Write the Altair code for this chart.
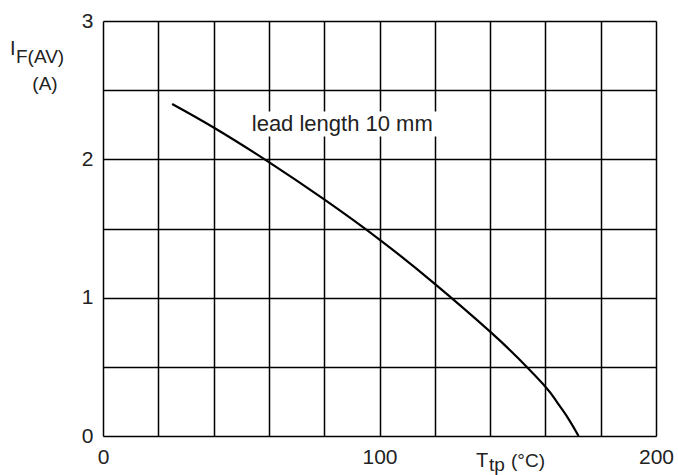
import altair as alt
import pandas as pd

# Curve: forward current vs tie-point temperature
temp = [25, 40, 60, 80, 100, 120, 140, 150, 160, 164, 168, 172]
current = [2.40, 2.23, 1.98, 1.71, 1.42, 1.10, 0.755, 0.565, 0.356, 0.25, 0.135, 0.0]

x_grid = [0, 20, 40, 60, 80, 100, 120, 140, 160, 180, 200]
y_grid = [0, 0.5, 1, 1.5, 2, 2.5, 3]

note_text = ["lead length 10 mm"]
note_x = [53.8]
note_y = [2.255]
# white box behind the note
box_x1 = [52.5]
box_x2 = [123.0]
box_y1 = [2.165]
box_y2 = [2.345]

FONT = "Liberation Sans"

curve_df = pd.DataFrame({"T": temp, "I": current})
note_df = pd.DataFrame({"label": note_text, "x": note_x, "y": note_y})
box_df = pd.DataFrame({"x1": box_x1, "x2": box_x2, "y1": box_y1, "y2": box_y2})

xscale = alt.Scale(domain=[0, 200], nice=False, zero=False)
yscale = alt.Scale(domain=[0, 3], nice=False, zero=False)

xaxis = alt.Axis(values=x_grid, title=None, grid=True, domain=False, ticks=False,
                 labelExpr="datum.value % 100 == 0 ? format(datum.value, 'd') : ''",
                 labelPadding=10, labelFontSize=21, labelFont=FONT, labelColor="#222",
                 gridColor="black", gridWidth=1.5, gridOpacity=1, labelFlush=False)
yaxis = alt.Axis(values=y_grid, title=None, grid=True, domain=False, ticks=False,
                 labelExpr="datum.value % 1 == 0 ? format(datum.value, 'd') : ''",
                 labelPadding=10, labelFontSize=21, labelFont=FONT, labelColor="#222",
                 gridColor="black", gridWidth=1.5, gridOpacity=1, labelFlush=False)

box = alt.Chart(box_df).mark_rect(fill="white").encode(
    x=alt.X("x1:Q", scale=xscale, axis=xaxis),
    x2="x2:Q",
    y=alt.Y("y1:Q", scale=yscale, axis=yaxis),
    y2="y2:Q",
)

line = alt.Chart(curve_df).mark_line(color="black", strokeWidth=2.2, interpolate="natural").encode(
    x=alt.X("T:Q", scale=xscale),
    y=alt.Y("I:Q", scale=yscale),
)

note = alt.Chart(note_df).mark_text(align="left", baseline="middle", fontSize=22,
                                    font=FONT, color="#222").encode(
    x=alt.X("x:Q", scale=xscale),
    y=alt.Y("y:Q", scale=yscale),
    text="label:N",
)

title_df = pd.DataFrame({"t": ["x"]})


def label(txt, px, py, size=18, align="left"):
    return alt.Chart(title_df).mark_text(text=txt, align=align, baseline="alphabetic",
                                         fontSize=size, font=FONT, color="#222").encode(
        x=alt.value(px), y=alt.value(py))


titles = [
    label("I", -93, 34, 20),
    label("F(AV)", -87, 42, 19),
    label("(A)", -58, 69, 19, "center"),
    label("T", 373, 446, 20),
    label("tp", 386, 450, 19),
    label("(\u00b0C)", 408, 446, 19),
]

chart = alt.layer(box, line, note, *titles).properties(
    width=553, height=415,
    autosize="none",
    padding={"left": 103, "top": 21, "right": 22, "bottom": 39},
).configure_view(stroke="black", strokeWidth=1.5).configure(background="white")

chart.save("out.html", embed_options={"renderer": "svg", "actions": False})
